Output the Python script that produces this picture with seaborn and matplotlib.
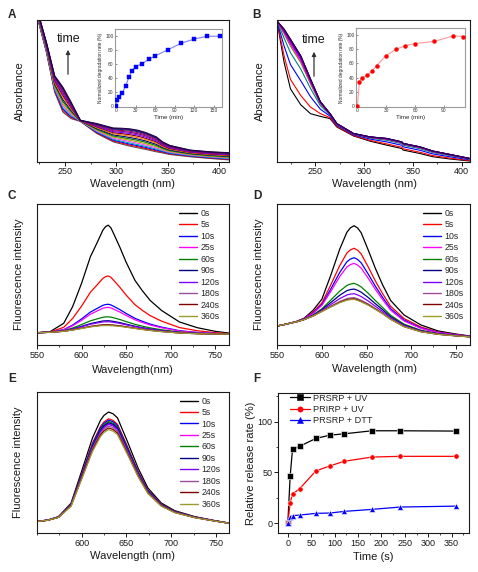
import numpy as np
import pandas as pd
import matplotlib
matplotlib.use('Agg')
import matplotlib.pyplot as plt
import seaborn as sns
from matplotlib.ticker import MultipleLocator
from matplotlib.lines import Line2D

sns.set_style('ticks')
plt.rcParams['font.family'] = ['Liberation Sans', 'DejaVu Sans']

W, H = 478, 572

# ---------------- Panel A (UV-vis, first / last spectra + curve levels) ----------------
a_wavelength = [222, 232, 240, 248, 256, 265, 281, 297, 305, 313, 321, 329, 339, 345, 352, 372, 391, 411]
a_first = [1.05, .771, .491, .35, .304, .285, .199, .14, .125, .11, .098, .086, .07, .062, .051, .035, .023, .012]
a_last = [1.10, .841, .607, .526, .42, .292, .269, .238, .236, .232, .222, .205, .175, .14, .115, .082, .07, .063]
a_level = [0, .06, .12, .18, .26, .34, .42, .50, .58, .66, .73, .80, .86, .92, .96, 1.0]
a_colors = ['#505050', '#ff0000', '#0000ff', '#00b0b0', '#ff40ff', '#b0b000', '#008000', '#000080',
            '#ff8000', '#800000', '#8000ff', '#800080', '#b00060', '#003070', '#400080', '#200040']
# inset A
a_inset_time = [0, 2, 5, 10, 15, 20, 25, 30, 40, 50, 60, 80, 100, 120, 140, 160]
a_inset_rate = [0, 8, 12, 19, 29, 41, 50, 56, 60, 66, 71, 80, 89, 95, 99, 99]

# ---------------- Panel B ----------------
b_wavelength = [211, 218, 224.5, 235, 245, 255, 265, 272, 289, 306, 323, 338.5, 340, 357, 370.5, 388, 408]
b_first = [.98, .70, .514, .402, .339, .32, .304, .245, .182, .145, .117, .093, .082, .058, .035, .019, .005]
b_last = [.99, .935, .864, .748, .584, .425, .339, .269, .199, .175, .164, .14, .129, .105, .075, .051, .023]
b_level = [0, .19, .49, .73, .86, .90, .93, .95, .97, .98, .99, 1.0, 1.0]
b_colors = ['#000000', '#ff0000', '#0000ff', '#008080', '#808000', '#ff00ff', '#c000c0',
            '#8000ff', '#800080', '#600080', '#500070', '#4000a0', '#300050']
b_inset_time = [0, 2, 5, 10, 15, 20, 30, 40, 50, 60, 80, 100, 110]
b_inset_rate = [0, 34, 40, 43, 49, 57, 71, 80, 85, 88, 91, 99, 98]

# ---------------- Fluorescence panels C, D, E ----------------
fl_times = ['0s', '5s', '10s', '25s', '60s', '90s', '120s', '180s', '240s', '360s']
fl_colors = ['#000000', '#ff0000', '#0000ff', '#ff00ff', '#008000', '#000080',
             '#8000ff', '#9b4f9b', '#800000', '#9a9a2e']

c_wavelength = [550, 565, 580, 590, 600, 610, 618, 624, 627, 630, 633, 636, 643, 650, 660, 668, 677, 690, 710, 730, 750, 766]
c_base = [.087, .09, .097, .106, .117, .128, .134, .138, .138, .138, .137, .136, .132, .126, .117, .11, .103, .095, .085, .08, .078, .077]
c_band = [0, .008, .08, .233, .449, .70, .84, .95, .985, 1, .975, .92, .79, .65, .48, .39, .30, .21, .11, .06, .027, .01]
c_amp = [.712, .352, .151, .129, .062, .034, .027, .006, .004, 0]

d_wavelength = [550, 560, 572, 580, 590, 600, 610, 620, 628, 632, 636, 640, 644, 652, 660, 668, 677, 692, 711, 730, 750, 766]
d_base = [.135, .148, .165, .18, .205, .238, .27, .30, .318, .322, .324, .316, .306, .282, .252, .222, .182, .13, .094, .076, .065, .058]
d_band = [0, 0, .006, .019, .077, .167, .433, .728, .923, .975, 1, .985, .939, .747, .556, .393, .257, .159, .092, .046, .025, .011]
d_amp = [.522, .362, .295, .255, .113, .073, .04, .012, .004, 0]

e_wavelength = [550, 562, 574, 588, 600, 612, 621, 625, 630, 635, 640, 651, 663, 674, 689, 704, 726, 748, 765]
e_base = [.082, .081, .080, .079, .078, .077, .076, .076, .076, .0755, .075, .074, .073, .072, .071, .070, .069, .067, .066]
e_band = [0, .014, .046, .168, .463, .763, .926, .97, 1, .985, .948, .737, .496, .316, .181, .113, .061, .028, .005]
e_amp = [.782, .734, .724, .699, .714, .706, .694, .682, .669, .657]

# ---------------- Panel F ----------------
f_time = [0, 5, 10, 25, 60, 90, 120, 180, 240, 360]
f_prsrp_uv = [0, 46.6, 72.6, 75.6, 83.4, 86.6, 87.9, 90.9, 90.9, 90.6]
f_prirp_uv = [0, 20.2, 28.7, 33.9, 51.5, 56.4, 60.9, 65.1, 65.8, 65.8]
f_prsrp_dtt = [0, 6.2, 7.5, 8.1, 9.8, 10.1, 11.7, 13.7, 16.0, 16.9]
f_labels = ['PRSRP + UV', 'PRIRP + UV', 'PRSRP + DTT']
f_colors = ['#000000', '#ff0000', '#0000ff']
f_markers = ['s', 'o', '^']

fig = plt.figure(figsize=(W / 100, H / 100), dpi=100)


def px_axes(left, top, right, bottom):
    return fig.add_axes([left / W, 1 - bottom / H, (right - left) / W, (bottom - top) / H])


def frame(ax, lw=0.8):
    for s in ax.spines.values():
        s.set_visible(True)
        s.set_linewidth(lw)
        s.set_color('#1a1a1a')


def ticks(ax, size=6.5):
    ax.tick_params(axis='both', which='major', direction='out', length=2.6, width=0.7,
                   labelsize=size, pad=1.5, colors='#1a1a1a', top=False, right=False)
    ax.tick_params(axis='both', which='minor', direction='out', length=1.5, width=0.6,
                   top=False, right=False)


def ftext(x, y, s, **kw):
    fig.text(x / W, 1 - y / H, s, **kw)


def spectra(ax, wl, first, last, levels, colors):
    wl = np.asarray(wl)
    first = np.asarray(first)
    last = np.asarray(last)
    rows = []
    for i, lv in enumerate(levels):
        vals = first + lv * (last - first)
        rows.append(pd.DataFrame({'wavelength': wl, 'absorbance': vals, 'curve': str(i)}))
    df = pd.concat(rows)
    sns.lineplot(data=df, x='wavelength', y='absorbance', hue='curve', palette=colors,
                 hue_order=[str(i) for i in range(len(levels))], estimator=None, sort=False,
                 legend=False, linewidth=0.8, ax=ax)


def fluor(ax, wl, base, band, amps, legend_xy):
    wl = np.asarray(wl)
    base = np.asarray(base)
    band = np.asarray(band)
    rows = []
    for t, a in zip(fl_times, amps):
        rows.append(pd.DataFrame({'wavelength': wl, 'intensity': base + a * band, 'time': t}))
    df = pd.concat(rows)
    sns.lineplot(data=df, x='wavelength', y='intensity', hue='time', hue_order=fl_times,
                 palette=fl_colors, estimator=None, sort=False, legend=False, linewidth=0.9, ax=ax)
    handles = [Line2D([0], [0], color=c, lw=1.0) for c in fl_colors]
    ax.legend(handles, fl_times, loc='upper left', bbox_to_anchor=legend_xy, frameon=False,
              fontsize=6.3, handlelength=2.1, handletextpad=0.35, labelspacing=0.28,
              borderpad=0, borderaxespad=0)
    ax.set_xlim(550, 766)
    ax.set_ylim(0, 1)
    ax.set_yticks([])
    ax.set_xlabel('')
    ax.set_ylabel('')
    ax.xaxis.set_minor_locator(MultipleLocator(25))
    frame(ax)
    ticks(ax)


def inset(ax, t, r, line_c, mark_c, marker, xmax, xticks):
    sns.lineplot(x=t, y=r, color=line_c, linewidth=0.8, ax=ax)
    sns.scatterplot(x=t, y=r, color=mark_c, marker=marker, s=8, edgecolor=mark_c, linewidth=0.3, ax=ax, zorder=3)
    ax.set_xlim(-1.5, xmax)
    ax.set_ylim(-1.5, 110)
    ax.set_xticks(xticks)
    ax.set_yticks([0, 20, 40, 60, 80, 100])
    ax.tick_params(direction='in', length=1.3, width=0.4, labelsize=3.5, pad=1.0, colors='#333333',
                   top=False, right=False)
    ax.set_xlabel('Time (min)', fontsize=4.4, labelpad=1.2)
    ax.set_ylabel('Normalized degradation rate (%)', fontsize=3.4, labelpad=1.5)
    for s in ax.spines.values():
        s.set_visible(True)
        s.set_linewidth(0.8)
        s.set_color('#9a9a9a')


# ---------- A ----------
axA = px_axes(36.7, 20, 229.3, 161.7)
spectra(axA, a_wavelength, a_first, a_last, a_level, a_colors)
axA.set_xlim(222.5, 410)
axA.set_ylim(0, 1)
axA.set_yticks([])
axA.set_xticks([250, 300, 350, 400])
axA.xaxis.set_minor_locator(MultipleLocator(25))
axA.set_xlabel('')
axA.set_ylabel('')
frame(axA)
ticks(axA)
axAi = px_axes(115, 28.5, 221.5, 107)
inset(axAi, a_inset_time, a_inset_rate, '#8080ff', '#0000ff', 's', 162, [0, 30, 60, 90, 120, 150])

# ---------- B ----------
axB = px_axes(277.3, 20, 470, 161.7)
spectra(axB, b_wavelength, b_first, b_last, b_level, b_colors)
axB.set_xlim(211, 408.5)
axB.set_ylim(0, 1)
axB.set_yticks([])
axB.set_xticks([250, 300, 350, 400])
axB.xaxis.set_minor_locator(MultipleLocator(25))
axB.set_xlabel('')
axB.set_ylabel('')
frame(axB)
ticks(axB)
axBi = px_axes(356, 28, 465, 107)
inset(axBi, b_inset_time, b_inset_rate, '#ff9a9a', '#ff0000', 'o', 112, [0, 30, 60, 90])

# ---------- C, D, E ----------
axC = px_axes(37, 204, 229.3, 345)
fluor(axC, c_wavelength, c_base, c_band, c_amp, (0.738, 0.965))
axC.set_xticks([550, 600, 650, 700, 750])
axD = px_axes(277.3, 204, 470, 345)
fluor(axD, d_wavelength, d_base, d_band, d_amp, (0.756, 0.965))
axD.set_xticks([550, 600, 650, 700, 750])
axE = px_axes(37, 392, 229.3, 533)
fluor(axE, e_wavelength, e_base, e_band, e_amp, (0.744, 0.967))
axE.set_xlim(550, 765)
axE.set_xticks([600, 650, 700, 750])

# ---------- F ----------
axF = px_axes(278, 393, 468.5, 533)
df_f = pd.concat([
    pd.DataFrame({'time': f_time, 'rate': vals, 'sample': lab})
    for vals, lab in zip([f_prsrp_uv, f_prirp_uv, f_prsrp_dtt], f_labels)
])
sns.lineplot(data=df_f, x='time', y='rate', hue='sample', style='sample', hue_order=f_labels,
             style_order=f_labels, palette=f_colors, markers=f_markers, dashes=False,
             markersize=3.8, markeredgewidth=0.4, linewidth=0.9, legend=False, ax=axF)
axF.set_xlim(-21, 386)
axF.set_ylim(-9.5, 128)
axF.set_xticks(range(0, 351, 50))
axF.set_yticks([0, 50, 100])
axF.xaxis.set_minor_locator(MultipleLocator(25))
axF.yaxis.set_minor_locator(MultipleLocator(25))
axF.set_xlabel('')
axF.set_ylabel('')
frame(axF)
ticks(axF)
fh = [Line2D([0], [0], color=c, marker=m, markersize=3.8, lw=0.9, markeredgewidth=0.4)
      for c, m in zip(f_colors, f_markers)]
axF.legend(fh, f_labels, loc='upper left', bbox_to_anchor=(0.061, 0.995), frameon=False,
           fontsize=6.6, handlelength=2.2, handletextpad=0.3, labelspacing=0.22,
           borderpad=0, borderaxespad=0)

# ---------- labels ----------
lab_kw = dict(fontsize=8, ha='center', va='center', color='#1a1a1a')
for x, y, s in [(12, 14.5, 'A'), (256.5, 14.5, 'B'), (12, 196, 'C'), (257, 196, 'D'),
                (12, 379, 'E'), (257, 379, 'F')]:
    ftext(x, y, s, fontsize=8.5, fontweight='bold', ha='center', va='center')

ftext(20, 91, 'Absorbance', rotation=90, **lab_kw)
ftext(259.7, 91, 'Absorbance', rotation=90, **lab_kw)
ftext(19, 274.5, 'Fluorescence intensity', rotation=90, **lab_kw)
ftext(258.7, 274.5, 'Fluorescence intensity', rotation=90, **lab_kw)
ftext(18, 462.5, 'Fluorescence intensity', rotation=90, **lab_kw)
ftext(251, 463, 'Relative release rate (%)', rotation=90, **lab_kw)

ftext(133, 184, 'Wavelength (nm)', **lab_kw)
ftext(374, 184, 'Wavelength (nm)', **lab_kw)
ftext(133, 370, 'Wavelength(nm)', **lab_kw)
ftext(374, 369.5, 'Wavelength (nm)', **lab_kw)
ftext(133, 556, 'Wavelength (nm)', **lab_kw)
ftext(373.5, 557, 'Time (s)', **lab_kw)

# time arrows
for tx, ty, ax_x, y0, y1 in [(69, 38.5, 68, 77, 47), (314, 40, 314, 79, 49)]:
    ftext(tx, ty, 'time', fontsize=9, ha='center', va='center', color='#1a1a1a')
    fig.add_artist(matplotlib.patches.FancyArrowPatch(
        (ax_x / W, 1 - y0 / H), (ax_x / W, 1 - y1 / H), transform=fig.transFigure,
        arrowstyle='-|>', mutation_scale=6, color='#333333', lw=0.9))

fig.savefig('out.png', dpi=100)
